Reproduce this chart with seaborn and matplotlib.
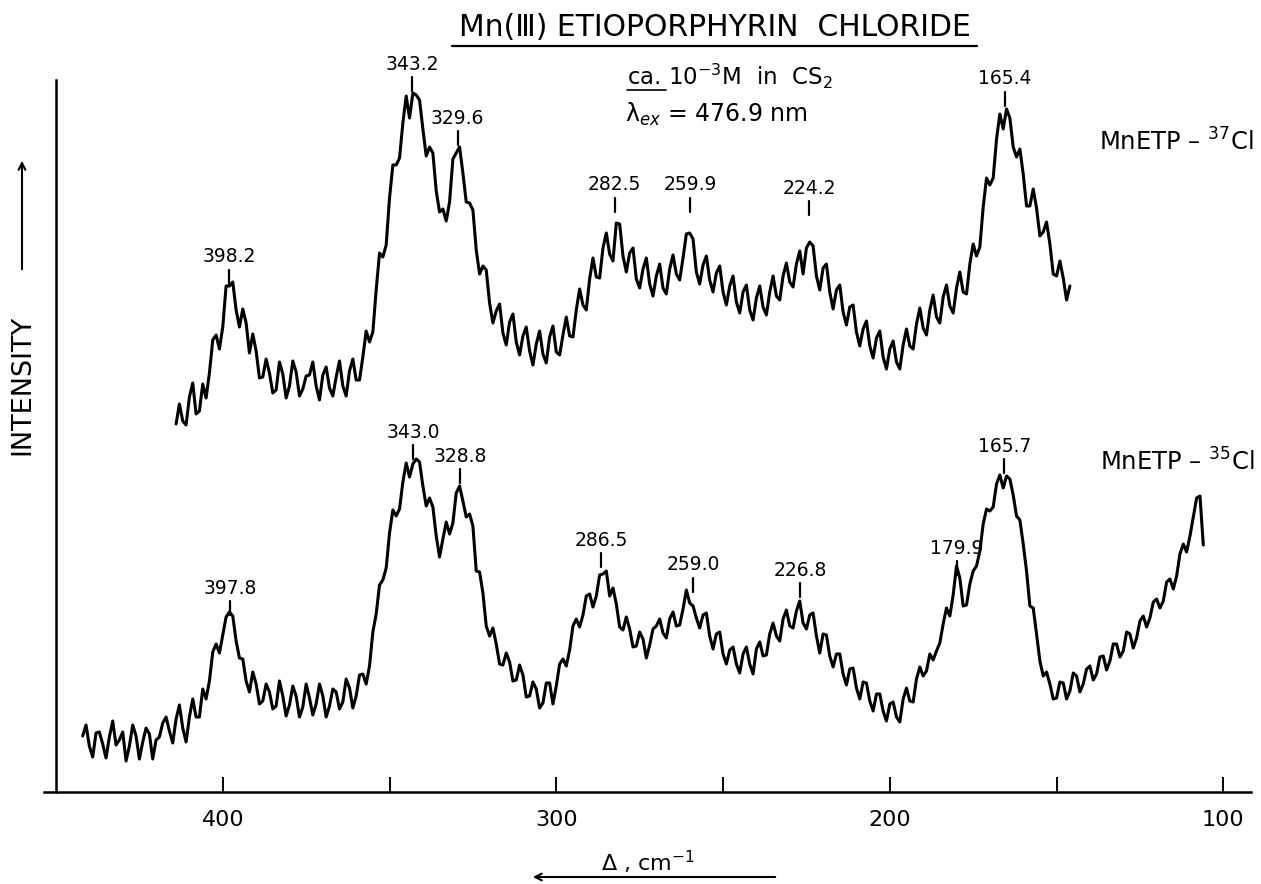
import numpy as np
import pandas as pd
import matplotlib
matplotlib.use("Agg")
import matplotlib.pyplot as plt
import seaborn as sns
from matplotlib.lines import Line2D

# ---------------- data ----------------
# Raman shift grid (cm-1), sampled every 1 cm-1
step = -1
top_start, top_stop = 414, 145
bot_start, bot_stop = 442, 105

wn_top = np.arange(top_start, top_stop, step)
int_top = [
    36.8, 38.8, 37.1, 36.7, 39.5, 40.9, 37.8, 38.1, 40.8, 39.4,
    41.9, 45.2, 45.7, 44.3, 46.5, 50.6, 50.6, 51.0, 48.2, 46.5,
    48.3, 46.9, 43.9, 45.8, 44.1, 41.4, 41.5, 43.3, 41.9, 39.9,
    40.2, 43.0, 41.8, 39.4, 40.6, 43.1, 42.0, 39.6, 40.3, 41.6,
    41.7, 43.0, 40.6, 39.2, 41.7, 42.5, 40.4, 39.6, 41.5, 43.1,
    40.6, 39.6, 42.1, 43.3, 41.2, 41.2, 43.5, 46.1, 45.0, 46.0,
    50.2, 53.9, 53.5, 54.7, 59.4, 62.7, 62.7, 63.4, 66.9, 69.6,
    67.4, 69.9, 69.7, 69.2, 66.3, 63.6, 64.5, 63.9, 60.1, 58.0,
    58.3, 57.1, 59.0, 63.3, 63.9, 64.5, 61.9, 59.0, 58.9, 58.2,
    54.2, 51.8, 52.6, 52.2, 48.9, 46.9, 48.1, 48.8, 45.9, 44.7,
    47.0, 47.8, 45.0, 43.7, 45.6, 46.5, 44.1, 42.7, 44.8, 46.1,
    43.8, 42.9, 45.5, 46.6, 44.0, 43.7, 45.7, 47.5, 45.6, 45.5,
    48.2, 50.3, 48.7, 48.2, 51.3, 53.4, 51.5, 51.4, 54.4, 55.9,
    53.8, 53.1, 56.9, 56.8, 53.6, 52.0, 53.9, 54.4, 51.3, 50.4,
    52.3, 53.4, 50.8, 49.6, 51.6, 52.8, 50.4, 49.8, 52.3, 53.7,
    51.8, 51.2, 53.4, 55.8, 55.9, 55.3, 52.0, 50.8, 52.7, 53.6,
    51.2, 50.0, 51.9, 52.6, 50.0, 48.7, 50.6, 51.6, 49.0, 47.9,
    50.0, 50.7, 48.2, 47.2, 49.4, 50.6, 48.5, 47.7, 50.0, 51.6,
    49.6, 49.2, 51.6, 52.9, 51.0, 50.5, 52.8, 54.1, 51.8, 54.4,
    55.0, 54.6, 51.6, 50.2, 52.4, 52.8, 50.0, 48.3, 50.2, 50.7,
    48.0, 46.7, 48.5, 48.7, 46.0, 44.6, 46.3, 47.1, 44.6, 43.4,
    45.4, 46.1, 43.5, 42.3, 44.3, 45.1, 43.0, 42.3, 44.7, 46.3,
    44.6, 44.3, 46.8, 48.4, 46.4, 45.7, 48.2, 49.7, 47.5, 46.9,
    49.5, 50.7, 48.6, 47.9, 50.4, 52.0, 50.0, 49.8, 52.8, 54.8,
    53.6, 54.5, 58.5, 61.4, 60.7, 61.4, 65.3, 67.8, 66.3, 68.3,
    67.4, 64.5, 63.5, 64.3, 61.8, 58.6, 58.6, 60.3, 58.4, 55.6,
    56.0, 57.0, 54.8, 51.8, 51.6, 53.1, 51.4, 49.2, 50.6,
]

wn_bot = np.arange(bot_start, bot_stop, step)
int_bot = [
    5.6, 6.7, 4.6, 3.5, 5.9, 6.0, 4.8, 3.4, 5.5, 7.1,
    4.7, 5.2, 6.0, 3.1, 4.6, 6.7, 5.6, 3.3, 5.0, 6.4,
    5.8, 3.3, 5.2, 5.5, 6.9, 7.5, 6.1, 4.9, 7.3, 8.7,
    6.4, 5.0, 7.5, 9.3, 7.5, 7.5, 10.3, 9.3, 11.1, 14.0,
    14.8, 13.9, 15.7, 17.5, 18.0, 17.6, 15.1, 13.4, 13.3, 11.1,
    10.0, 12.0, 10.8, 8.8, 9.1, 10.8, 10.0, 8.3, 8.6, 11.1,
    9.6, 7.6, 8.7, 10.6, 9.6, 7.5, 8.5, 10.8, 9.4, 7.7,
    8.8, 10.8, 9.6, 7.5, 8.6, 10.3, 10.0, 8.3, 9.0, 11.3,
    10.4, 8.4, 9.6, 11.7, 11.8, 10.8, 12.6, 16.0, 17.8, 20.7,
    21.2, 22.4, 25.9, 28.2, 27.6, 28.3, 31.0, 32.9, 31.5, 32.8,
    33.3, 33.0, 30.6, 28.6, 29.4, 28.5, 25.6, 23.5, 25.3, 27.0,
    25.8, 26.9, 29.9, 30.6, 29.1, 27.5, 27.8, 26.6, 22.1, 22.0,
    19.9, 16.6, 15.6, 16.4, 14.8, 12.8, 12.7, 13.9, 13.0, 11.1,
    11.2, 12.7, 11.7, 9.5, 9.6, 11.0, 10.3, 8.4, 8.9, 10.9,
    10.9, 8.8, 10.6, 12.8, 13.3, 12.6, 14.2, 16.6, 17.3, 16.5,
    17.7, 19.6, 19.8, 18.5, 19.6, 21.7, 21.8, 22.1, 19.6, 20.4,
    18.8, 16.5, 16.2, 17.5, 16.3, 14.5, 14.6, 16.0, 15.3, 13.4,
    14.7, 16.3, 16.6, 17.3, 15.9, 15.4, 17.3, 18.0, 16.6, 16.7,
    18.3, 20.2, 18.9, 18.6, 17.4, 16.4, 17.7, 17.9, 15.6, 14.3,
    15.8, 16.0, 13.8, 12.8, 14.2, 14.5, 12.8, 11.9, 13.8, 14.5,
    12.8, 11.8, 14.3, 15.0, 13.6, 13.7, 15.8, 16.9, 15.6, 15.1,
    17.3, 18.2, 16.6, 16.4, 18.1, 19.1, 16.9, 16.3, 17.7, 17.9,
    15.6, 13.9, 15.8, 15.7, 13.6, 12.5, 13.8, 13.8, 11.8, 10.7,
    12.3, 12.4, 10.4, 9.3, 11.0, 10.9, 9.1, 8.1, 9.8, 9.8,
    8.1, 7.1, 8.8, 9.0, 7.5, 7.0, 9.3, 10.4, 9.1, 9.0,
    11.3, 12.5, 11.6, 12.1, 13.8, 13.2, 14.1, 14.9, 16.8, 18.4,
    17.6, 19.7, 22.6, 21.4, 18.6, 18.7, 20.8, 22.1, 22.6, 24.1,
    26.8, 28.3, 28.1, 28.5, 30.8, 31.7, 30.4, 31.6, 31.3, 29.7,
    27.6, 27.2, 24.8, 22.1, 18.6, 18.4, 15.8, 13.1, 11.6, 12.0,
    10.8, 9.3, 9.4, 11.0, 10.9, 9.3, 10.1, 11.9, 11.6, 10.0,
    10.8, 12.3, 12.6, 11.2, 11.8, 13.5, 13.6, 12.2, 13.1, 14.8,
    14.8, 13.5, 14.1, 16.0, 15.8, 14.4, 15.4, 17.1, 17.6, 16.5,
    17.4, 19.0, 19.3, 18.4, 19.1, 21.0, 21.3, 20.3, 21.6, 23.8,
    24.8, 24.0, 25.6, 27.5, 29.4, 29.6, 24.7,
]

top_peaks = [398.2, 343.2, 329.6, 282.5, 259.9, 224.2, 165.4]
bot_peaks = [397.8, 343.0, 328.8, 286.5, 259.0, 226.8, 179.9, 165.7]

xtick_major = [400, 300, 200, 100]
xtick_minor = [350, 250, 150]

title = "Mn(Ⅲ) ETIOPORPHYRIN  CHLORIDE"
label_top = "MnETP – $^{37}$Cl"
label_bot = "MnETP – $^{35}$Cl"

# ---------------- layout (annotation heights, axis units) ----------------
top_label_y = [53.5, 72.8, 67.4, 60.7, 60.7, 60.4, 71.3]
bot_label_y = [20.4, 36.0, 33.6, 25.2, 22.7, 22.2, 24.4, 34.6]

# ---------------- figure ----------------
sns.set_theme(style="white")
plt.rcParams["font.family"] = ["DejaVu Sans"]
plt.rcParams["mathtext.fontset"] = "dejavusans"
plt.rcParams["text.color"] = "black"
plt.rcParams["xtick.color"] = "black"
plt.rcParams["axes.edgecolor"] = "black"

W, H = 1261, 884
fig = plt.figure(figsize=(W / 100, H / 100), dpi=100)
fig.patch.set_facecolor("white")


def fx(px):
    return px / W


def fy(py):
    return 1 - py / H


ax = fig.add_axes([fx(44), fy(792), fx(1251) - fx(44), fy(80) - fy(792)])
ax.set_facecolor("white")

df_top = pd.DataFrame({"wavenumber": wn_top, "intensity": int_top})
df_bot = pd.DataFrame({"wavenumber": wn_bot, "intensity": int_bot})

for df in (df_top, df_bot):
    sns.lineplot(data=df, x="wavenumber", y="intensity", color="black",
                 linewidth=2.2, ax=ax, legend=False, sort=False)

ax.set_xlim(453.6, 91.7)
ax.set_ylim(0, 71.2)
ax.set_xlabel("")
ax.set_ylabel("")

for s in ("top", "right"):
    ax.spines[s].set_visible(False)
ax.spines["left"].set_position(("data", 450))
for s in ("left", "bottom"):
    ax.spines[s].set_color("black")
    ax.spines[s].set_linewidth(1.8)

ax.set_xticks(xtick_major)
ax.set_xticks(xtick_minor, minor=True)
ax.set_xticklabels([str(v) for v in xtick_major])
ax.set_yticks([])
ax.tick_params(axis="x", which="both", direction="in", length=11, width=1.4,
               colors="black", labelsize=16, pad=13, bottom=True)


def annotate_peaks(peaks, label_y):
    for p, ly in zip(peaks, label_y):
        ax.plot([p, p], [ly - 2.7, ly - 1.3], color="black", lw=1.6,
                clip_on=False)
        ax.text(p, ly, f"{p:.1f}", ha="center", va="center",
                fontsize=13.5, color="black", clip_on=False)


annotate_peaks(top_peaks, top_label_y)
annotate_peaks(bot_peaks, bot_label_y)

# series labels
fig.text(fx(1099), fy(142), label_top, ha="left", va="center", fontsize=17.5)
fig.text(fx(1100), fy(462), label_bot, ha="left", va="center", fontsize=17.5)

# conditions
fig.text(fx(627), fy(76), "ca. 10$^{-3}$M  in  CS$_2$", ha="left",
         va="center", fontsize=16.5)
fig.add_artist(Line2D([fx(627), fx(666)], [fy(90), fy(90)], color="black",
                      lw=1.2, transform=fig.transFigure))
fig.text(fx(625), fy(114), "λ$_{ex}$ = 476.9 nm", ha="left", va="center",
         fontsize=17)

# title
fig.text(fx(715), fy(28), title, ha="center", va="center", fontsize=21.5)
fig.add_artist(Line2D([fx(452), fx(977)], [fy(46), fy(46)], color="black",
                      lw=1.6, transform=fig.transFigure))

# y label with arrow
fig.text(fx(22), fy(385), "INTENSITY", rotation=90, ha="center",
         va="center", fontsize=19.5)
ax.annotate("", xy=(fx(22), fy(158)), xytext=(fx(22), fy(272)),
            xycoords="figure fraction", textcoords="figure fraction",
            arrowprops=dict(arrowstyle="->", lw=1.5, color="black"))

# x label with arrow
fig.text(fx(648), fy(862), "Δ , cm$^{-1}$", ha="center", va="center",
         fontsize=16)
ax.annotate("", xy=(fx(530), fy(877)), xytext=(fx(778), fy(877)),
            xycoords="figure fraction", textcoords="figure fraction",
            arrowprops=dict(arrowstyle="->", lw=1.5, color="black"))

fig.savefig("out.png", dpi=100, facecolor="white")
